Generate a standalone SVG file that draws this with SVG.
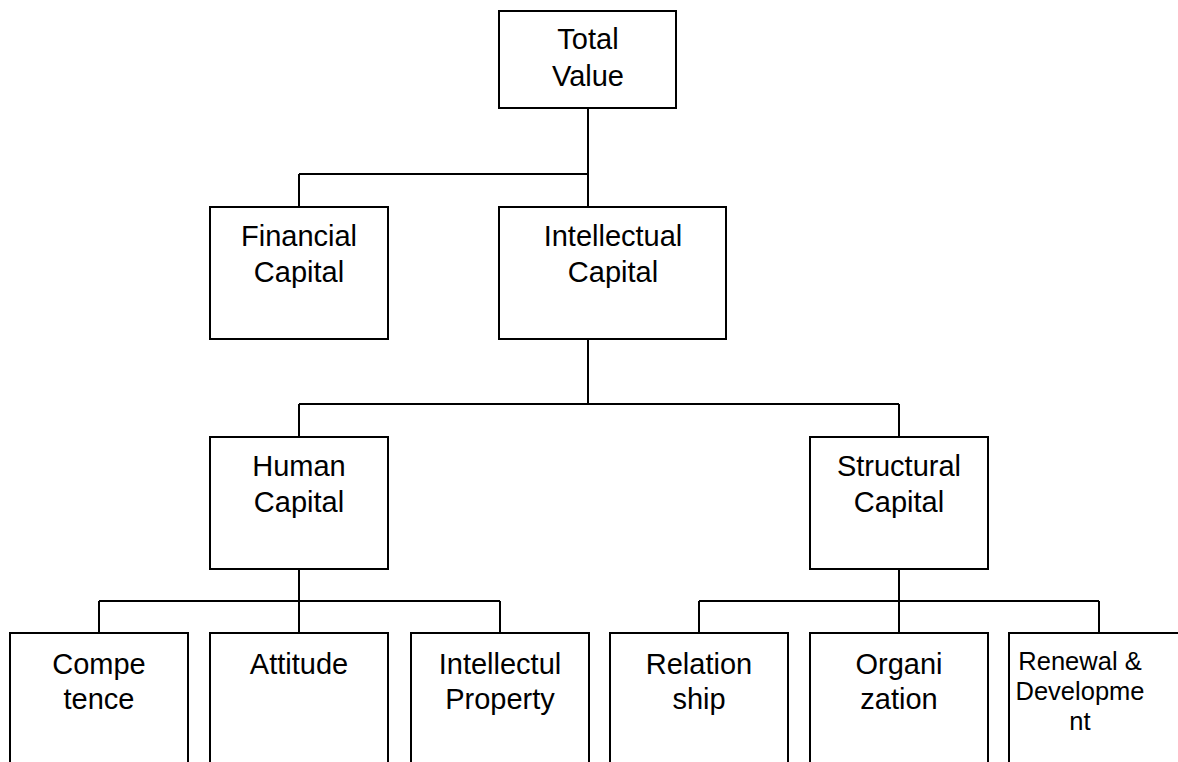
<svg xmlns="http://www.w3.org/2000/svg" width="1178" height="762" viewBox="0 0 1178 762">
<style>
.box{fill:#fff;stroke:#000;stroke-width:2}
.t{font-family:"Liberation Sans",Arial,sans-serif;font-size:29px;fill:#000;text-anchor:middle}
.s{font-size:25.5px}
.c{fill:none;stroke:#000;stroke-width:2}
</style>
<rect width="1178" height="762" fill="#fff"/>
<g id="connectors" class="c">
<path d="M588 108V208M299 174H588M299 174V208"/>
<path d="M588 339V404M299 404H899M299 404V437M899 404V437"/>
<path d="M299 569V601M99 601H500M99 601V633M299 601V633M500 601V633"/>
<path d="M899 569V601M699 601H1099M699 601V633M899 601V633M1099 601V633"/>
</g>
<g id="total"><rect class="box" x="499" y="11" width="177" height="97"/><text class="t" x="588" y="49">Total</text><text class="t" x="588" y="86">Value</text></g>
<g id="financial"><rect class="box" x="210" y="207" width="178" height="132"/><text class="t" x="299" y="246">Financial</text><text class="t" x="299" y="282">Capital</text></g>
<g id="intellectual"><rect class="box" x="499" y="207" width="227" height="132"/><text class="t" x="613" y="246">Intellectual</text><text class="t" x="613" y="282">Capital</text></g>
<g id="human"><rect class="box" x="210" y="437" width="178" height="132"/><text class="t" x="299" y="476">Human</text><text class="t" x="299" y="512">Capital</text></g>
<g id="structural"><rect class="box" x="810" y="437" width="178" height="132"/><text class="t" x="899" y="476">Structural</text><text class="t" x="899" y="512">Capital</text></g>
<g id="competence"><rect class="box" x="10" y="633" width="178" height="140"/><text class="t" x="99" y="674">Compe</text><text class="t" x="99" y="709">tence</text></g>
<g id="attitude"><rect class="box" x="210" y="633" width="178" height="140"/><text class="t" x="299" y="674">Attitude</text></g>
<g id="property"><rect class="box" x="411" y="633" width="178" height="140"/><text class="t" x="500" y="674">Intellectul</text><text class="t" x="500" y="709">Property</text></g>
<g id="relationship"><rect class="box" x="610" y="633" width="178" height="140"/><text class="t" x="699" y="674">Relation</text><text class="t" x="699" y="709">ship</text></g>
<g id="organization"><rect class="box" x="810" y="633" width="178" height="140"/><text class="t" x="899" y="674">Organi</text><text class="t" x="899" y="709">zation</text></g>
<g id="renewal"><rect class="box" x="1009" y="633" width="180" height="140"/><text class="t s" x="1080" y="670">Renewal &amp;</text><text class="t s" x="1080" y="700">Developme</text><text class="t s" x="1080" y="730">nt</text></g>
</svg>
